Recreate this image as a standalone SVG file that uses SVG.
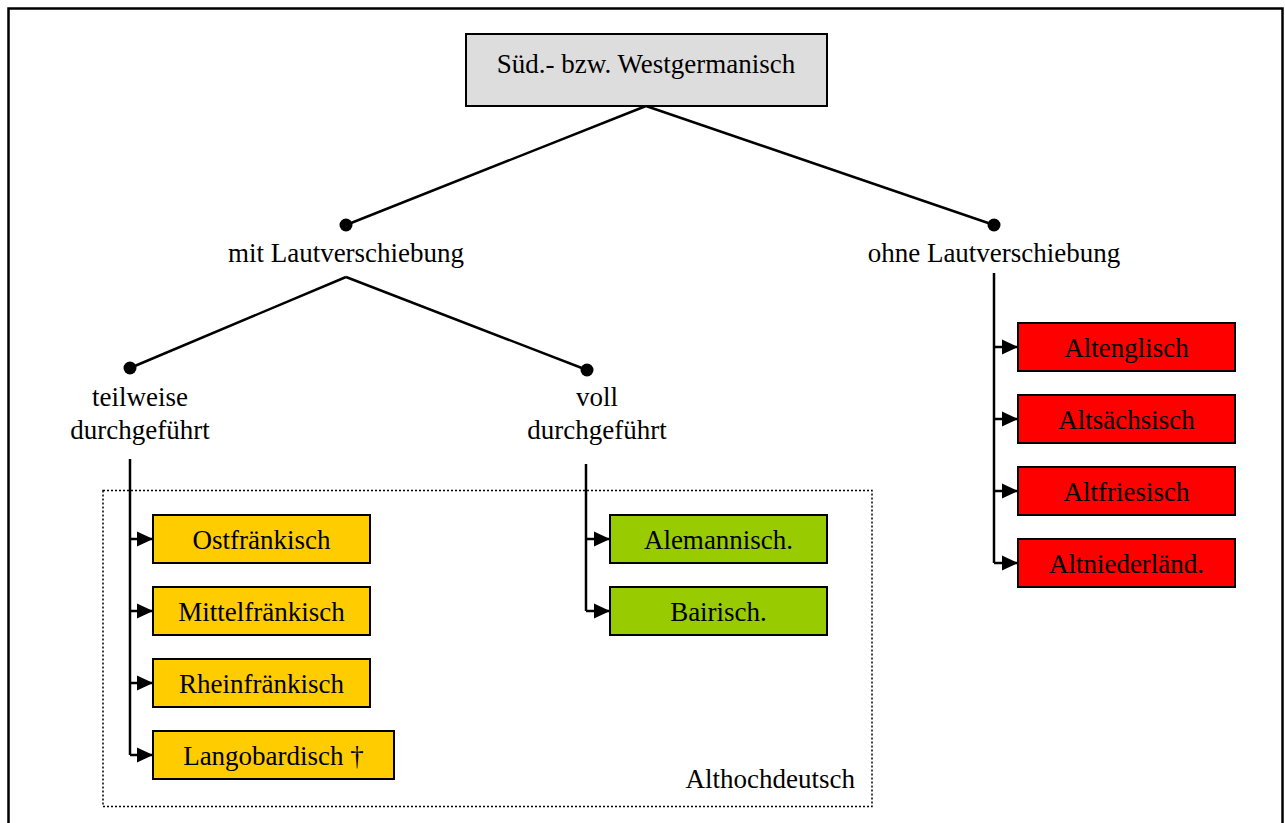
<svg xmlns="http://www.w3.org/2000/svg" width="1285" height="823" viewBox="0 0 1285 823">
  <style>
    text { font-family: "Liberation Serif", "Times New Roman", serif; font-size: 27px; fill: #000; }
    .c { text-anchor: middle; }
    .box { stroke: #000; stroke-width: 2; }
    .gold { fill: #FFCC00; }
    .green { fill: #99CC00; }
    .red { fill: #FF0000; }
    .grey { fill: #DDDDDD; }
    .edge { fill: none; stroke: #000; stroke-width: 2.5; }
    .arr { fill: none; stroke: #000; stroke-width: 2.5; marker-end: url(#tri); }
  </style>
  <defs>
    <marker id="tri" viewBox="0 0 16 16" refX="16" refY="8" markerWidth="16" markerHeight="16" markerUnits="userSpaceOnUse" orient="auto">
      <path d="M0,0.5 L16,8 L0,15.5 Z" fill="#000"/>
    </marker>
  </defs>

  <rect x="0" y="0" width="1285" height="823" fill="#fff"/>
  <!-- page frame -->
  <rect x="8.5" y="8.5" width="1274" height="840" fill="none" stroke="#000" stroke-width="2.5"/>

  <!-- Althochdeutsch region -->
  <g id="althochdeutsch">
    <rect x="103" y="490.5" width="769" height="316" fill="none" stroke="#000" stroke-width="1.5" stroke-dasharray="2 2"/>
    <text x="855" y="788" text-anchor="end">Althochdeutsch</text>
  </g>

  <g id="connectors">
    <path class="edge" d="M646,106 L346,225 M646,106 L994,225"/>
    <path class="edge" d="M346,277 L130,368 M346,277 L587,370"/>
    <circle cx="346" cy="225" r="6.5"/>
    <circle cx="994" cy="225" r="6.5"/>
    <circle cx="130" cy="368" r="6.5"/>
    <circle cx="587" cy="370" r="6.5"/>
    <!-- teilweise -->
    <path class="edge" d="M130,459 L130,755"/>
    <path class="arr" d="M130,539 L153,539"/>
    <path class="arr" d="M130,611 L153,611"/>
    <path class="arr" d="M130,683 L153,683"/>
    <path class="arr" d="M130,755 L153,755"/>
    <!-- voll -->
    <path class="edge" d="M586,464 L586,611"/>
    <path class="arr" d="M586,539 L610,539"/>
    <path class="arr" d="M586,611 L610,611"/>
    <!-- ohne -->
    <path class="edge" d="M994,273 L994,563"/>
    <path class="arr" d="M994,347 L1018,347"/>
    <path class="arr" d="M994,419 L1018,419"/>
    <path class="arr" d="M994,491 L1018,491"/>
    <path class="arr" d="M994,563 L1018,563"/>
  </g>

  <g id="root">
    <rect class="box grey" x="466" y="34" width="361" height="72"/>
    <text class="c" x="646" y="73">Süd.- bzw. Westgermanisch</text>
  </g>

  <g id="mit">
    <text class="c" x="346" y="262">mit Lautverschiebung</text>
  </g>
  <g id="ohne">
    <text class="c" x="994" y="262">ohne Lautverschiebung</text>
  </g>
  <g id="teilweise">
    <text class="c" x="140" y="406">teilweise</text>
    <text class="c" x="140" y="439">durchgeführt</text>
  </g>
  <g id="voll">
    <text class="c" x="597" y="406">voll</text>
    <text class="c" x="597" y="439">durchgeführt</text>
  </g>

  <g id="ostfraenkisch">
    <rect class="box gold" x="153" y="515" width="217" height="48"/>
    <text class="c" x="261.5" y="549">Ostfränkisch</text>
  </g>
  <g id="mittelfraenkisch">
    <rect class="box gold" x="153" y="587" width="217" height="48"/>
    <text class="c" x="261.5" y="621">Mittelfränkisch</text>
  </g>
  <g id="rheinfraenkisch">
    <rect class="box gold" x="153" y="659" width="217" height="48"/>
    <text class="c" x="261.5" y="693">Rheinfränkisch</text>
  </g>
  <g id="langobardisch">
    <rect class="box gold" x="153" y="731" width="241" height="48"/>
    <text class="c" x="273.5" y="765">Langobardisch †</text>
  </g>

  <g id="alemannisch">
    <rect class="box green" x="610" y="515" width="217" height="48"/>
    <text class="c" x="718.5" y="549">Alemannisch.</text>
  </g>
  <g id="bairisch">
    <rect class="box green" x="610" y="587" width="217" height="48"/>
    <text class="c" x="718.5" y="621">Bairisch.</text>
  </g>

  <g id="altenglisch">
    <rect class="box red" x="1018" y="323" width="217" height="48"/>
    <text class="c" x="1126.5" y="357">Altenglisch</text>
  </g>
  <g id="altsaechsisch">
    <rect class="box red" x="1018" y="395" width="217" height="48"/>
    <text class="c" x="1126.5" y="429">Altsächsisch</text>
  </g>
  <g id="altfriesisch">
    <rect class="box red" x="1018" y="467" width="217" height="48"/>
    <text class="c" x="1126.5" y="501">Altfriesisch</text>
  </g>
  <g id="altniederlaendisch">
    <rect class="box red" x="1018" y="539" width="217" height="48"/>
    <text class="c" x="1126.5" y="573">Altniederländ.</text>
  </g>
</svg>
